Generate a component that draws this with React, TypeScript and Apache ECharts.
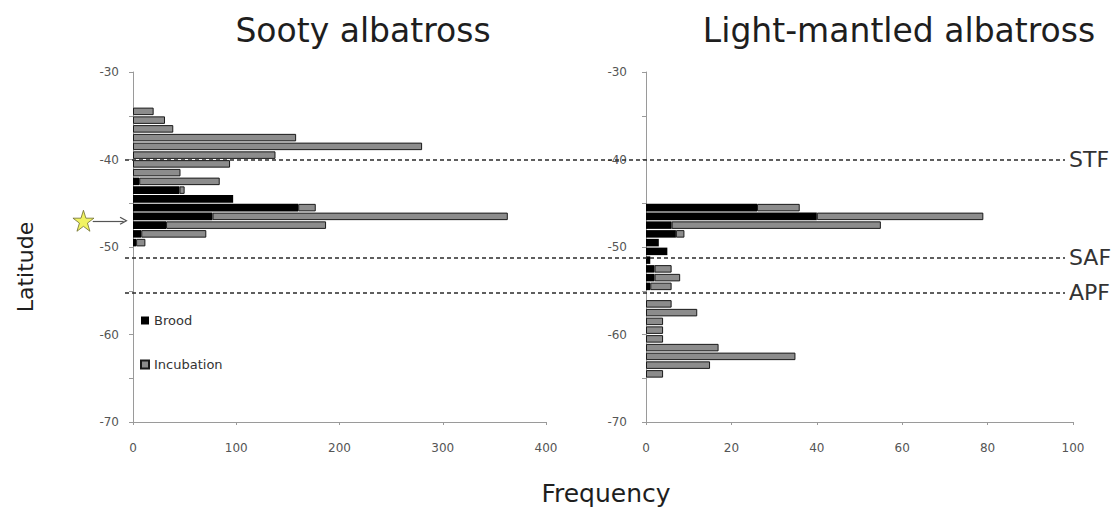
import React, { useEffect, useRef } from "react";
import * as echarts from "echarts";

// Latitude bins (bin centres, degrees)
const sootyLat = [-34.5, -35.5, -36.5, -37.5, -38.5, -39.5, -40.5, -41.5, -42.5, -43.5, -44.5, -45.5, -46.5, -47.5, -48.5, -49.5];
const sootyBrood = [0, 0, 0, 0, 0, 0, 0, 0, 6, 45, 97, 160, 77, 32, 8, 3];
const sootyIncubation = [20, 31, 39, 158, 280, 138, 94, 46, 78, 5, 0, 17, 286, 155, 63, 9];

const lightLat = [-45.5, -46.5, -47.5, -48.5, -49.5, -50.5, -51.5, -52.5, -53.5, -54.5, -55.5, -56.5, -57.5, -58.5, -59.5, -60.5, -61.5, -62.5, -63.5, -64.5];
const lightBrood = [26, 40, 6, 7, 3, 5, 1, 2, 2, 1, 0, 0, 0, 0, 0, 0, 0, 0, 0, 0];
const lightIncubation = [10, 39, 49, 2, 0, 0, 0, 4, 6, 5, 0, 6, 12, 4, 4, 4, 17, 35, 15, 4];

const frontNames = ["STF", "SAF", "APF"];
const frontLat = [-40, -51.2, -55.2];

const colonyLat = -47;
const starX = -48;
const arrowX = [-39, -9];

const sootyTicks = { min: 0, max: 400, interval: 100 };
const lightTicks = { min: 0, max: 100, interval: 20 };
const latRange = { min: -70, max: -30 };

const FONT = "DejaVu Sans";

const latBins: number[] = [];
for (let v = latRange.min + 0.5; v < latRange.max; v += 1) latBins.push(v);

function toSeries(lat: number[], vals: number[]) {
  const m = new Map<number, number>();
  lat.forEach((l, i) => m.set(l, vals[i]));
  return latBins.map((b) => {
    const v = m.get(b);
    return v ? v : "-";
  });
}

const STAR =
  "path://M50,2 L61,36 L97,36 L68,57 L79,92 L50,71 L21,92 L32,57 L3,36 L39,36 Z";
const CHEVRON_UP = "path://M0,10 L6,0 L12,10 L10.6,11 L6,3.4 L1.4,11 Z";

export default function App() {
  const ref = useRef<HTMLDivElement>(null);
  useEffect(() => {
    if (!ref.current) return;
    const chart = echarts.init(ref.current, undefined, { renderer: "svg" });
    const gridTop = 72;
    const gridH = 350;

    const valueY = (gridIndex: number, margin: number) => ({
      type: "value",
      gridIndex,
      position: "left",
      min: latRange.min,
      max: latRange.max,
      interval: 5,
      axisLine: { show: true, lineStyle: { color: "#9a9a9a", width: 1 } },
      axisTick: { show: true, length: 4, lineStyle: { color: "#9a9a9a" } },
      splitLine: { show: false },
      axisLabel: {
        formatter: (v: number) => (v % 10 === 0 ? String(v) : ""),
        fontSize: 12,
        color: "#555",
        fontFamily: FONT,
        margin,
      },
    });
    const catY = (gridIndex: number) => ({
      type: "category",
      gridIndex,
      position: "left",
      data: latBins.map(String),
      boundaryGap: true,
      show: false,
    });
    const valueX = (gridIndex: number, t: any) => ({
      type: "value",
      gridIndex,
      min: t.min,
      max: t.max,
      interval: t.interval,
      axisLine: { show: true, onZero: false, lineStyle: { color: "#9a9a9a", width: 1.2 } },
      axisTick: { show: true, length: 3, lineStyle: { color: "#9a9a9a" } },
      splitLine: { show: false },
      axisLabel: { fontSize: 12, color: "#555", fontFamily: FONT, margin: 20 },
    });

    const broodStyle = { color: "#000000" };
    const incStyle = { color: "#8c8c8c", borderColor: "#1a1a1a", borderWidth: 1 };

    const textStyle = (size: number) => ({
      font: `${size}px "${FONT}"`,
      fill: "#1e1e1e",
      align: "center",
      verticalAlign: "middle",
      textAlign: "center",
      textVerticalAlign: "middle",
    });

    chart.setOption({
      animation: false,
      backgroundColor: "#ffffff",
      textStyle: { fontFamily: FONT },
      grid: [
        { left: 133, top: gridTop, width: 413, height: gridH },
        { left: 646, top: gridTop, width: 427, height: gridH },
        { left: 125, top: gridTop, width: 940, height: gridH },
      ],
      xAxis: [
        valueX(0, sootyTicks),
        valueX(1, lightTicks),
        { type: "value", gridIndex: 2, min: 0, max: 1, show: false },
      ],
      yAxis: [
        catY(0),
        valueY(0, 14),
        catY(1),
        valueY(1, 19),
        { type: "value", gridIndex: 2, min: latRange.min, max: latRange.max, show: false },
      ],
      legend: {
        data: ["Brood", "Incubation"],
        orient: "vertical",
        left: 135,
        top: 309,
        itemGap: 31,
        itemWidth: 8,
        itemHeight: 8,
        icon: "rect",
        textStyle: { fontSize: 13, color: "#333", fontFamily: FONT },
      },
      series: [
        {
          type: "bar",
          name: "Brood",
          xAxisIndex: 0,
          yAxisIndex: 0,
          stack: "sooty",
          barCategoryGap: "14%",
          data: toSeries(sootyLat, sootyBrood),
          itemStyle: broodStyle,
        },
        {
          type: "bar",
          name: "Incubation",
          xAxisIndex: 0,
          yAxisIndex: 0,
          stack: "sooty",
          barCategoryGap: "14%",
          data: toSeries(sootyLat, sootyIncubation),
          itemStyle: incStyle,
        },
        {
          type: "bar",
          name: "Brood",
          xAxisIndex: 1,
          yAxisIndex: 2,
          stack: "light",
          barCategoryGap: "14%",
          data: toSeries(lightLat, lightBrood),
          itemStyle: broodStyle,
        },
        {
          type: "bar",
          name: "Incubation",
          xAxisIndex: 1,
          yAxisIndex: 2,
          stack: "light",
          barCategoryGap: "14%",
          data: toSeries(lightLat, lightIncubation),
          itemStyle: incStyle,
        },
        {
          type: "line",
          name: "fronts",
          xAxisIndex: 2,
          yAxisIndex: 4,
          data: [],
          silent: true,
          markLine: {
            silent: true,
            symbol: ["none", "none"],
            lineStyle: { type: [4, 3], color: "#2a2a2a", width: 1.5 },
            label: {
              show: true,
              position: "end",
              formatter: "{b}",
              fontSize: 22,
              color: "#333",
              fontFamily: FONT,
              distance: 4,
            },
            data: frontNames.map((n, i) => ({ name: n, yAxis: frontLat[i] })),
          },
        },
        {
          type: "lines",
          name: "arrow",
          coordinateSystem: "cartesian2d",
          xAxisIndex: 0,
          yAxisIndex: 1,
          clip: false,
          silent: true,
          symbol: ["none", CHEVRON_UP],
          symbolSize: [9, 8],
          lineStyle: { color: "#555", width: 1.2, opacity: 1 },
          data: [
            {
              coords: [
                [arrowX[0], colonyLat],
                [arrowX[1], colonyLat],
              ],
            },
          ],
        },
        {
          type: "scatter",
          name: "colony",
          xAxisIndex: 0,
          yAxisIndex: 1,
          clip: false,
          silent: true,
          symbol: STAR,
          symbolSize: 21,
          itemStyle: { color: "#eef03a", borderColor: "#6e6e2e", borderWidth: 1 },
          data: [[starX, colonyLat]],
          z: 10,
        },
      ],
      graphic: [
        { type: "text", x: 363, y: 30, style: { text: "Sooty albatross", ...textStyle(33) } },
        { type: "text", x: 899, y: 30, style: { text: "Light-mantled albatross", ...textStyle(33) } },
        { type: "text", x: 25, y: 267, rotation: Math.PI / 2, style: { text: "Latitude", ...textStyle(22) } },
        { type: "text", x: 606, y: 493, style: { text: "Frequency", ...textStyle(25) } },
      ],
    });
    return () => chart.dispose();
  }, []);
  return (
    <div
      ref={ref}
      style={{ position: "fixed", left: 0, top: 0, width: 1112, height: 510, background: "#fff" }}
    />
  );
}
